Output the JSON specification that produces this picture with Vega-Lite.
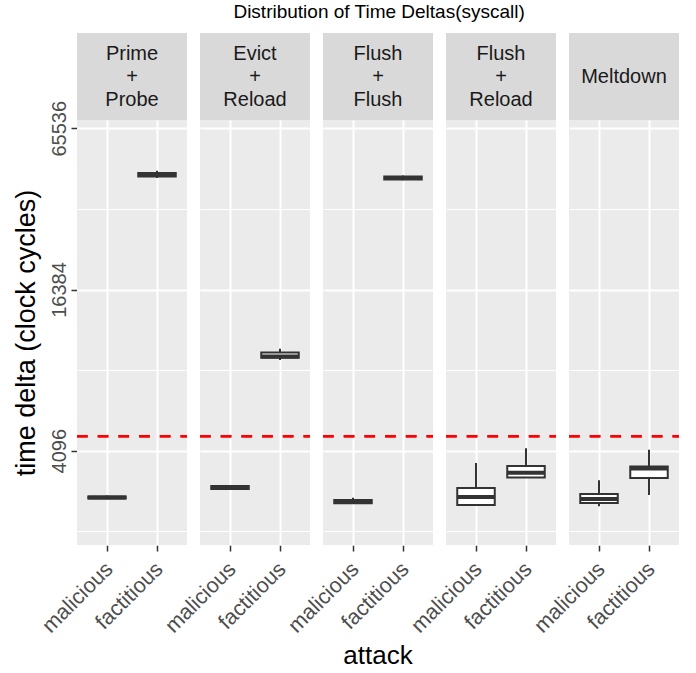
{
  "$schema": "https://vega.github.io/schema/vega-lite/v6.json",
  "padding": {"left": 12, "top": 3, "right": 5, "bottom": 5},
  "title": {"text": "Distribution of Time Deltas(syscall)", "fontSize": 19, "font": "Liberation Sans", "fontWeight": "normal", "color": "#000000", "anchor": "middle", "offset": 11, "dx": 33},
  "datasets": {
    "strips": [
      {"panel": "Prime\n+\nProbe"},
      {"panel": "Evict\n+\nReload"},
      {"panel": "Flush\n+\nFlush"},
      {"panel": "Flush\n+\nReload"},
      {"panel": "Meltdown"}
    ],
    "boxes": [
      {"panel": "Prime\n+\nProbe", "attack": "malicious", "lower": 2700, "q1": 2716, "median": 2740, "q3": 2765, "upper": 2790, "threshold": 4640},
      {"panel": "Prime\n+\nProbe", "attack": "factitious", "lower": 42730, "q1": 43294, "median": 43862, "q3": 44617, "upper": 45514, "threshold": 4640},
      {"panel": "Evict\n+\nReload", "attack": "malicious", "lower": 2930, "q1": 2945, "median": 2985, "q3": 3023, "upper": 3040, "threshold": 4640},
      {"panel": "Evict\n+\nReload", "attack": "factitious", "lower": 8930, "q1": 9105, "median": 9200, "q3": 9540, "upper": 9840, "threshold": 4640},
      {"panel": "Flush\n+\nFlush", "attack": "malicious", "lower": 2590, "q1": 2605, "median": 2640, "q3": 2680, "upper": 2733, "threshold": 4640},
      {"panel": "Flush\n+\nFlush", "attack": "factitious", "lower": 41900, "q1": 42210, "median": 42750, "q3": 43294, "upper": 43700, "threshold": 4640},
      {"panel": "Flush\n+\nReload", "attack": "malicious", "lower": 2560, "q1": 2567, "median": 2751, "q3": 2973, "upper": 3685, "threshold": 4640},
      {"panel": "Flush\n+\nReload", "attack": "factitious", "lower": 3245, "q1": 3254, "median": 3390, "q3": 3591, "upper": 4182, "threshold": 4640},
      {"panel": "Meltdown", "attack": "malicious", "lower": 2539, "q1": 2613, "median": 2704, "q3": 2824, "upper": 3175, "threshold": 4640},
      {"panel": "Meltdown", "attack": "factitious", "lower": 2798, "q1": 3239, "median": 3515, "q3": 3574, "upper": 4131, "threshold": 4640}
    ]
  },
  "vconcat": [
    {
      "data": {"name": "strips"},
      "facet": {"column": {"field": "panel", "type": "nominal", "sort": ["Prime\n+\nProbe", "Evict\n+\nReload", "Flush\n+\nFlush", "Flush\n+\nReload", "Meltdown"], "header": null}},
      "spacing": 13,
      "bounds": "flush",
      "spec": {
        "width": 110,
        "height": 87,
        "view": {"fill": "#D9D9D9", "stroke": null},
        "layer": [
          {
            "transform": [{"filter": "indexof(datum.panel, '\\n') >= 0"}],
            "mark": {"type": "text", "lineBreak": "\n", "lineHeight": 23, "fontSize": 20, "font": "Liberation Sans", "color": "#1A1A1A", "align": "center", "baseline": "middle", "dy": -23},
            "encoding": {"text": {"field": "panel", "type": "nominal"}}
          },
          {
            "transform": [{"filter": "indexof(datum.panel, '\\n') < 0"}],
            "mark": {"type": "text", "fontSize": 20, "font": "Liberation Sans", "color": "#1A1A1A", "align": "center", "baseline": "middle"},
            "encoding": {"text": {"field": "panel", "type": "nominal"}}
          }
        ]
      }
    },
    {
      "data": {"name": "boxes"},
      "facet": {"column": {"field": "panel", "type": "nominal", "sort": ["Prime\n+\nProbe", "Evict\n+\nReload", "Flush\n+\nFlush", "Flush\n+\nReload", "Meltdown"], "header": {"labels": false, "title": "attack", "titleOrient": "bottom", "titleFontSize": 26, "titleFont": "Liberation Sans", "titleFontWeight": "normal", "titleColor": "#000000", "titlePadding": -4}}},
      "spacing": 13,
      "bounds": "flush",
      "spec": {
        "width": 110,
        "height": 425,
        "view": {"fill": "#EBEBEB", "stroke": null},
        "encoding": {
          "x": {
            "field": "attack", "type": "nominal", "sort": ["malicious", "factitious"],
            "scale": {"paddingInner": 0.25, "paddingOuter": 0.225},
            "axis": {"title": null, "labelAngle": -45, "labelAlign": "right", "labelBaseline": "top", "bandPosition": 0.5, "labelPadding": 7, "labelOffset": -5, "labelFontSize": 21.5}
          }
        },
        "layer": [
          {
            "mark": {"type": "rule", "color": "#FF0000", "strokeWidth": 2.5, "strokeDash": [10.7, 10]},
            "encoding": {
              "x": {"value": 0},
              "x2": {"value": 110},
              "y": {"field": "threshold", "type": "quantitative"}
            }
          },
          {
            "mark": {"type": "rule", "color": "#333333", "strokeWidth": 2},
            "encoding": {
              "y": {
                "field": "lower", "type": "quantitative",
                "scale": {"type": "log", "base": 2, "domain": [1821, 70380], "nice": false, "zero": false},
                "axis": {
                  "title": "time delta (clock cycles)",
                  "titleFontSize": 27,
                  "titlePadding": 9,
                  "labelPadding": 2,
                  "values": [2048, 4096, 8192, 16384, 32768, 65536],
                  "labelExpr": "indexof([4096,16384,65536], datum.value) >= 0 ? format(datum.value, 'd') : ''",
                  "labelAngle": -90,
                  "labelAlign": "center",
                  "labelBaseline": "bottom",
                  "gridWidth": {"condition": {"test": "indexof([4096,16384,65536], datum.value) >= 0", "value": 2}, "value": 1},
                  "tickColor": {"condition": {"test": "indexof([4096,16384,65536], datum.value) >= 0", "value": "#333333"}, "value": "transparent"}
                }
              },
              "y2": {"field": "upper"}
            }
          },
          {
            "mark": {"type": "bar", "fill": "#FFFFFF", "stroke": "#333333", "strokeWidth": 2, "opacity": 1},
            "encoding": {
              "y": {"field": "q1", "type": "quantitative"},
              "y2": {"field": "q3"}
            }
          },
          {
            "mark": {"type": "tick", "color": "#333333", "opacity": 1, "thickness": 4, "size": 37.5, "orient": "horizontal"},
            "encoding": {
              "y": {"field": "median", "type": "quantitative"}
            }
          }
        ]
      }
    }
  ],
  "spacing": -34,
  "config": {
    "view": {"stroke": null},
    "font": "Liberation Sans",
    "axis": {
      "domain": false,
      "grid": true,
      "gridColor": "#FFFFFF",
      "gridWidth": 2,
      "tickColor": "#333333",
      "tickWidth": 1.5,
      "tickSize": 6,
      "labelFont": "Liberation Sans",
      "labelFontSize": 20,
      "labelColor": "#4D4D4D",
      "labelPadding": 3,
      "titleFont": "Liberation Sans",
      "titleFontSize": 26,
      "titleFontWeight": "normal",
      "titleColor": "#000000"
    }
  }
}
